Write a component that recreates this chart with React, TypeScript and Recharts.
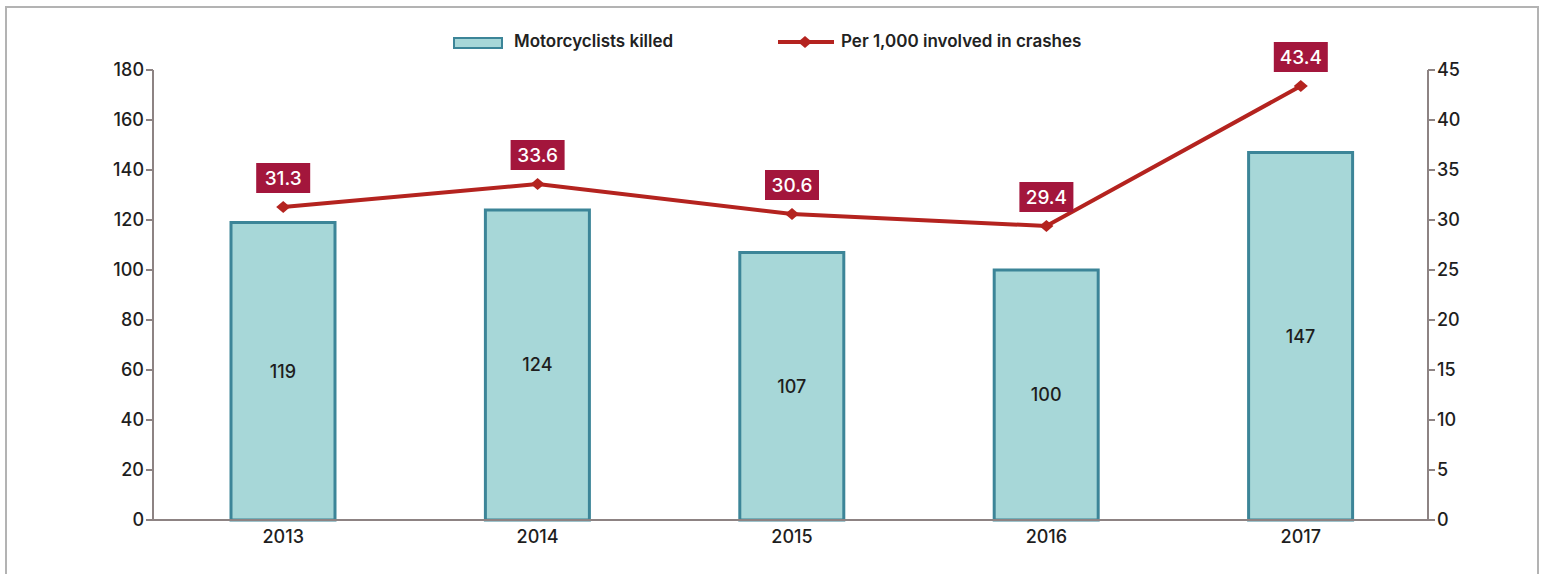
import React from "react";
import {
  ComposedChart,
  Bar,
  Line,
  XAxis,
  YAxis,
  LabelList,
} from "recharts";

const years = ["2013", "2014", "2015", "2016", "2017"];
const killed = [119, 124, 107, 100, 147];
const perThousand = [31.3, 33.6, 30.6, 29.4, 43.4];
const leftTicks = [0, 20, 40, 60, 80, 100, 120, 140, 160, 180];
const rightTicks = [0, 5, 10, 15, 20, 25, 30, 35, 40, 45];

const data = years.map((year, i) => ({
  year,
  killed: killed[i],
  rate: perThousand[i],
}));

const FONT = "Inter, 'Open Sans', sans-serif";
const AXIS = "#8d8383";
const TEAL_FILL = "#a7d7d8";
const TEAL_EDGE = "#3c8598";
const RED = "#b4231f";
const BOX = "#a3163c";
const tickStyle = { fontSize: 18, fill: "#1e1e1e", fontFamily: FONT, fontWeight: 500 };

// diamond marker on the line
function Diamond(props: any) {
  const { cx, cy } = props;
  if (cx == null || cy == null) return null;
  return (
    <polygon
      points={`${cx - 7},${cy} ${cx},${cy - 6} ${cx + 7},${cy} ${cx},${cy + 6}`}
      fill={RED}
    />
  );
}

// red box with white value above each point
function RateLabel(props: any) {
  const { x, y, value } = props;
  const w = 54;
  const h = 30;
  return (
    <g>
      <rect x={x - w / 2} y={y - 44} width={w} height={h} fill={BOX} />
      <text
        x={x}
        y={y - 29}
        fill="#fff"
        fontSize={19}
        fontWeight={500}
        fontFamily={FONT}
        textAnchor="middle"
        dominantBaseline="central"
      >
        {value}
      </text>
    </g>
  );
}

export default function App() {
  return (
    <div
      style={{
        position: "fixed",
        left: 0,
        top: 0,
        width: 1543,
        height: 574,
        background: "#fff",
        fontFamily: FONT,
      }}
    >
      <div
        style={{
          position: "absolute",
          left: 5,
          top: 6,
          width: 1530,
          height: 580,
          borderLeft: "2px solid #b3b3b3",
          borderTop: "2px solid #b3b3b3",
          borderRight: "2px solid #b3b3b3",
        }}
      />

      {/* 범례 */}
      <div
        style={{
          position: "absolute",
          top: 31,
          left: 0,
          width: 1543,
          height: 24,
          fontSize: 17,
          fontWeight: 600,
          color: "#222",
        }}
      >
        <div style={{ position: "absolute", left: 453, top: 6, width: 46, height: 8, background: TEAL_FILL, border: `2px solid ${TEAL_EDGE}` }} />
        <span style={{ position: "absolute", left: 514, top: 0, whiteSpace: "nowrap" }}>Motorcyclists killed</span>
        <svg style={{ position: "absolute", left: 776, top: 1 }} width={60} height={20}>
          <line x1={2} y1={10} x2={58} y2={10} stroke={RED} strokeWidth={4} />
          <polygon points="22,10 29,4 36,10 29,16" fill={RED} />
        </svg>
        <span style={{ position: "absolute", left: 841, top: 0, whiteSpace: "nowrap" }}>Per 1,000 involved in crashes</span>
      </div>

      <div style={{ position: "absolute", left: 0, top: 0 }}>
        <ComposedChart
          width={1543}
          height={574}
          data={data}
          margin={{ top: 70, right: 60, bottom: 0, left: 93 }}
          barCategoryGap={0}
        >
          <XAxis
            dataKey="year"
            tick={tickStyle}
            tickLine={false}
            axisLine={{ stroke: AXIS, strokeWidth: 2 }}
            height={54}
            tickMargin={4}
            padding={{ left: 3, right: 0 }}
          />
          <YAxis
            yAxisId="left"
            domain={[0, 180]}
            ticks={leftTicks}
            interval={0}
            width={60}
            tick={tickStyle}
            tickLine={{ stroke: AXIS, strokeWidth: 2 }}
            tickSize={7}
            axisLine={{ stroke: AXIS, strokeWidth: 2 }}
          />
          <YAxis
            yAxisId="right"
            orientation="right"
            domain={[0, 45]}
            ticks={rightTicks}
            interval={0}
            width={55}
            tick={tickStyle}
            tickLine={{ stroke: AXIS, strokeWidth: 2 }}
            tickSize={7}
            axisLine={{ stroke: AXIS, strokeWidth: 2 }}
          />
          <Bar
            yAxisId="left"
            dataKey="killed"
            barSize={104}
            fill={TEAL_FILL}
            stroke={TEAL_EDGE}
            strokeWidth={3}
            isAnimationActive={false}
          >
            <LabelList
              dataKey="killed"
              position="center"
              fill="#1e1e1e"
              fontSize={18}
              fontWeight={500}
              fontFamily={FONT}
            />
          </Bar>
          <Line
            yAxisId="right"
            dataKey="rate"
            stroke={RED}
            strokeWidth={4}
            dot={<Diamond />}
            activeDot={false}
            isAnimationActive={false}
          >
            <LabelList dataKey="rate" content={<RateLabel />} />
          </Line>
        </ComposedChart>
      </div>
    </div>
  );
}
